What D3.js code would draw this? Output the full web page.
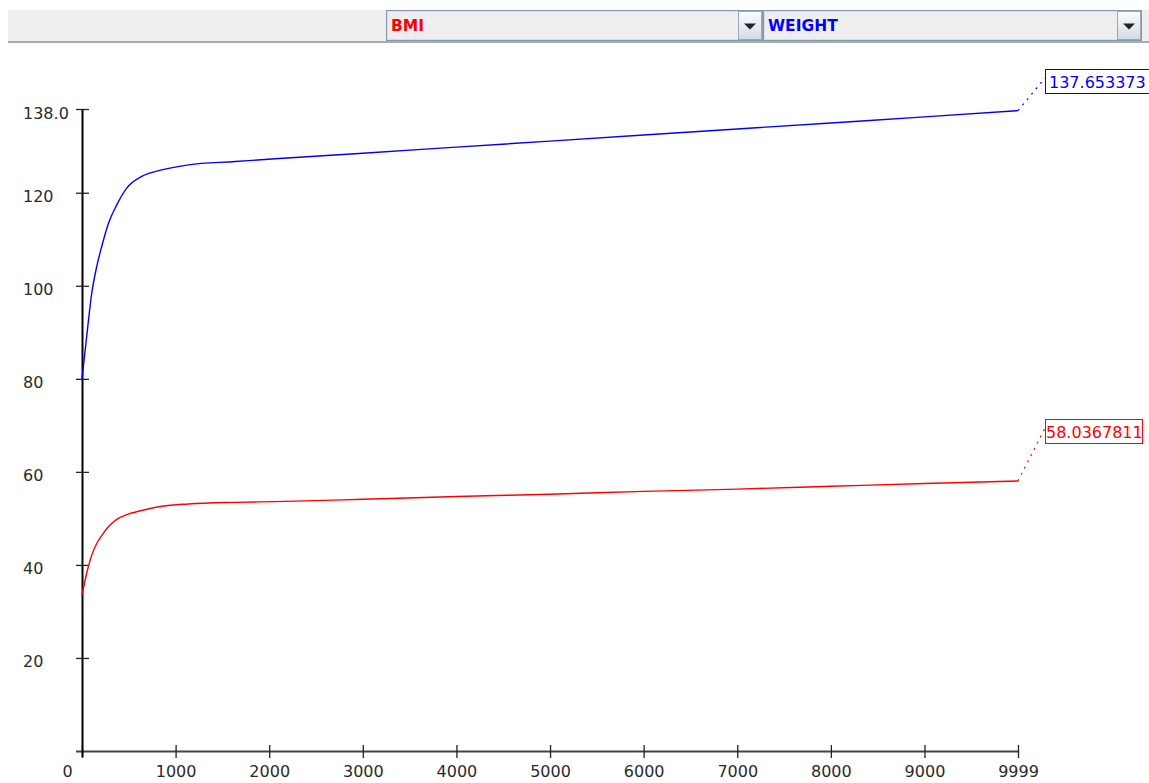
<!DOCTYPE html>
<html>
<head>
<meta charset="utf-8">
<script src="https://cdn.jsdelivr.net/npm/d3@7"></script>
<style>
  html, body { margin: 0; padding: 0; background: #fff; }
  svg { display: block; }
  text { font-family: "DejaVu Sans", Verdana, sans-serif; }
</style>
</head>
<body>
<svg id="chart" width="1149" height="783"></svg>
<script>
// ---- data ----
const steps = [0, 50, 104, 157, 210, 282, 371, 478, 638, 852, 1137, 1636, 2064, 3000, 4000, 5000, 6000, 7000, 8000, 9000, 9999];
const weight = [80, 89.1, 98.4, 104.1, 108.4, 113.4, 117.4, 121.0, 123.5, 124.9, 126.0, 126.7, 127.3, 128.5, 129.8, 131.1, 132.4, 133.7, 135.0, 136.3, 137.653373];
const bmi = [33.5, 38.2, 42.1, 44.6, 46.3, 48.2, 49.8, 50.8, 51.7, 52.6, 53.1, 53.45, 53.6, 54.1, 54.7, 55.2, 55.8, 56.3, 56.9, 57.5, 58.0367811];
const xTicks = [0, 1000, 2000, 3000, 4000, 5000, 6000, 7000, 8000, 9000, 9999];
const yTicks = [20, 40, 60, 80, 100, 120, 138];
const yTickLabels = ["20", "40", "60", "80", "100", "120", "138.0"];
const seriesNames = ["BMI", "WEIGHT"];
const lastLabels = ["58.0367811", "137.653373"];

const svg = d3.select("#chart");

// ---- toolbar ----
const bar = svg.append("g");
bar.append("rect").attr("x", 8).attr("y", 10).attr("width", 1141).attr("height", 31).attr("fill", "#eeeeee");
bar.append("rect").attr("x", 8).attr("y", 41).attr("width", 1141).attr("height", 2).attr("fill", "#a4adb7");

function combo(x0, x1, label, color) {
  const g = bar.append("g");
  g.append("rect").attr("x", x0 + 0.5).attr("y", 10.5).attr("width", x1 - x0 - 1).attr("height", 30)
    .attr("fill", "#eeeeee").attr("stroke", "#8a99ab");
  g.append("rect").attr("x", x0 + 1.5).attr("y", 11.5).attr("width", x1 - x0 - 3).attr("height", 28)
    .attr("fill", "none").attr("stroke", "#d6dde5");
  const bx = x1 - 25;
  const grad = "g" + x0;
  const lg = svg.append("defs").append("linearGradient").attr("id", grad).attr("x1", 0).attr("y1", 0).attr("x2", 0).attr("y2", 1);
  lg.append("stop").attr("offset", "0%").attr("stop-color", "#fbfcfd");
  lg.append("stop").attr("offset", "100%").attr("stop-color", "#d2dbe5");
  g.append("rect").attr("x", bx + 0.5).attr("y", 11.5).attr("width", 23).attr("height", 28)
    .attr("fill", "url(#" + grad + ")").attr("stroke", "#9aa8b8");
  const cx = bx + 12, cy = 25.5;
  g.append("path").attr("d", `M${cx - 6},${cy - 2}L${cx + 6},${cy - 2}L${cx},${cy + 4}Z`).attr("fill", "#222");
  g.append("text").attr("x", x0 + 5).attr("y", 31).attr("font-size", 15.5).attr("font-weight", "bold")
    .attr("font-family", "Liberation Sans, Arial, sans-serif")
    .attr("fill", color).text(label);
}
combo(386, 763, seriesNames[0], "#ff0000");
combo(763, 1142, seriesNames[1], "#0000ff");

// ---- scales ----
const x = d3.scaleLinear().domain([0, 9999]).range([82, 1018]);
const y = d3.scaleLinear().domain([0, 138]).range([751, 109]);

// ---- axes ----
const xAxis = svg.append("g").attr("transform", "translate(0,751)")
  .call(d3.axisBottom(x).tickValues(xTicks).tickFormat(d3.format("d")).tickSizeOuter(0));
xAxis.select(".domain").attr("d", `M76,0.5H${x(9999)}`).attr("stroke", "#444").attr("stroke-width", 2);
xAxis.selectAll(".tick line").attr("y1", -6).attr("y2", 7).attr("stroke", "#222").attr("stroke-width", 1.3);
xAxis.selectAll(".tick text").attr("y", 26).attr("dy", 0).attr("font-size", 16).attr("fill", "#2a2a2a")
  .attr("font-family", "DejaVu Sans");
xAxis.selectAll(".tick text").filter(d => d === 0).attr("dx", -15);

const yAxis = svg.append("g").attr("transform", "translate(82,0)")
  .call(d3.axisLeft(y).tickValues(yTicks).tickFormat((d, i) => yTickLabels[i]).tickSizeOuter(0));
yAxis.select(".domain").attr("d", `M0.5,${y(138)}V757`).attr("stroke", "#000").attr("stroke-width", 2);
yAxis.selectAll(".tick line").attr("x1", -6).attr("x2", 7).attr("stroke", "#222").attr("stroke-width", 1.3);
yAxis.selectAll(".tick text").attr("x", -59).attr("dy", null).attr("y", 9).attr("text-anchor", "start")
  .attr("font-size", 16).attr("fill", "#2a2a2a").attr("font-family", "DejaVu Sans");

// ---- lines ----
const line = d3.line().x((d, i) => x(steps[i])).y(d => y(d)).curve(d3.curveMonotoneX);
const series = [
  { vals: bmi, color: "#ff0000", label: lastLabels[0], boxTop: 419, boxW: 97 },
  { vals: weight, color: "#0000ff", label: lastLabels[1], boxTop: 69, boxW: 115 }
];
series.forEach(s => {
  svg.append("path").attr("d", line(s.vals)).attr("fill", "none").attr("stroke", s.color).attr("stroke-width", 1.4);
  const lx = x(steps[steps.length - 1]), ly = y(s.vals[s.vals.length - 1]);
  svg.append("line").attr("x1", lx).attr("y1", ly).attr("x2", 1045).attr("y2", s.boxTop + 9)
    .attr("stroke", s.color).attr("stroke-width", 1.2).attr("stroke-dasharray", "2,5");
  svg.append("rect").attr("x", 1045.5).attr("y", s.boxTop + 0.5).attr("width", s.boxW).attr("height", 24)
    .attr("fill", "#fff").attr("stroke", s.color);
  svg.append("text").attr("x", s.boxW > 100 ? 1049 : 1046).attr("y", s.boxTop + 19).attr("font-size", 16).attr("fill", s.color)
    .text(s.label);
});
</script>
</body>
</html>
